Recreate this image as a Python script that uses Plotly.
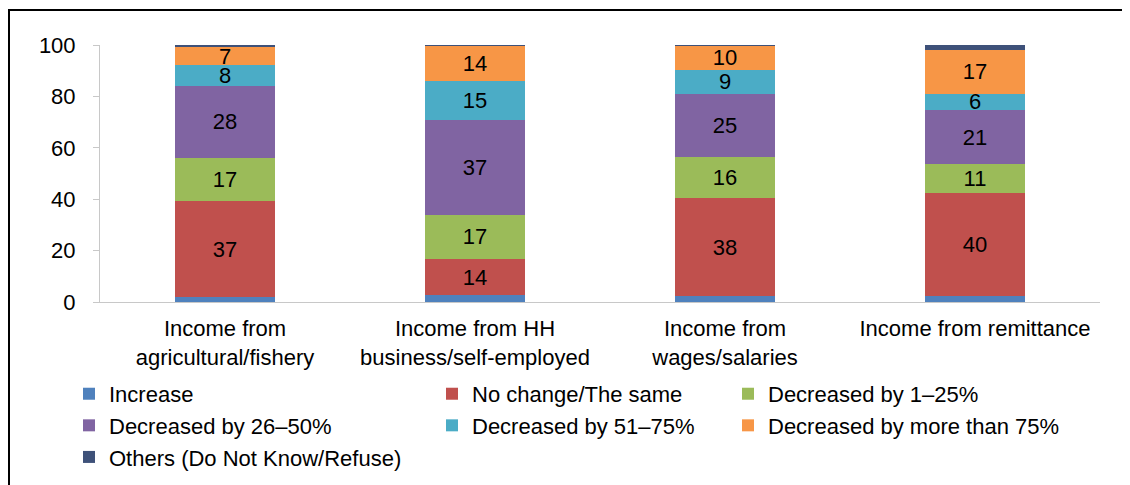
import plotly.graph_objects as go

categories = ["Income from<br>agricultural/fishery", "Income from HH<br>business/self-employed",
              "Income from<br>wages/salaries", "Income from remittance"]
increase = [1.8, 2.6, 2.2, 2.5]
no_change = [37.4, 14.0, 38.2, 40.0]
dec_1_25 = [17.0, 17.4, 16.0, 11.2]
dec_26_50 = [28.0, 37.0, 24.6, 21.0]
dec_51_75 = [8.0, 15.0, 9.3, 6.3]
dec_75 = [7.0, 13.7, 9.6, 17.0]
others = [0.8, 0.3, 0.3, 2.0]

series = [
    ("Increase", increase, "#4F81BD", False, "legend"),
    ("No change/The same", no_change, "#C0504D", True, "legend2"),
    ("Decreased by 1\u201325%", dec_1_25, "#9BBB59", True, "legend3"),
    ("Decreased by 26\u201350%", dec_26_50, "#8064A2", True, "legend"),
    ("Decreased by 51\u201375%", dec_51_75, "#4BACC6", True, "legend2"),
    ("Decreased by more than 75%", dec_75, "#F79646", True, "legend3"),
    ("Others (Do Not Know/Refuse)", others, "#3E5179", False, "legend"),
]

FONT = "Liberation Sans, Arial, sans-serif"
FS = 22

fig = go.Figure()
for name, vals, color, show_text, leg in series:
    fig.add_trace(go.Bar(
        x=categories, y=vals, name=name, marker_color=color,
        marker_line_width=0, width=0.4,
        texttemplate="%{y:.0f}" if show_text else None,
        textposition="inside" if show_text else "none",
        insidetextanchor="middle", textangle=0, constraintext="none",
        textfont=dict(color="black", size=FS, family=FONT),
        legend=leg, legendgroup=name,
    ))

leg_common = dict(orientation="v", xanchor="left", yanchor="top", traceorder="normal",
                  font=dict(size=FS, family=FONT, color="black"), tracegroupgap=2,
                  bgcolor="rgba(0,0,0,0)", itemclick=False)
ly = -0.276
fig.update_layout(
    barmode="stack",
    width=1122, height=500,
    margin=dict(l=92, r=30, t=37, b=206),
    paper_bgcolor="white", plot_bgcolor="white",
    font=dict(family=FONT, size=FS, color="black"),
    legend=dict(x=-0.031, y=ly, **leg_common),
    legend2=dict(x=0.332, y=ly, **leg_common),
    legend3=dict(x=0.628, y=ly, **leg_common),
    xaxis=dict(showline=True, linecolor="#C8C8C8", linewidth=1, ticks="",
               ticklabelstandoff=7, automargin=False,
               tickfont=dict(size=FS, family=FONT, color="black"), showgrid=False),
    yaxis=dict(range=[0, 100], tickvals=[0, 20, 40, 60, 80, 100], showline=True,
               linecolor="#C8C8C8", linewidth=1, ticks="outside", ticklen=6,
               tickcolor="#C8C8C8", showgrid=False, zeroline=False,
               ticklabelstandoff=13, automargin=False,
               tickfont=dict(size=FS, family=FONT, color="black")),
    shapes=[dict(type="rect", xref="paper", yref="paper",
                 x0=-0.091, x1=1.05, y0=-0.8, y1=1.136,
                 line=dict(color="black", width=2), fillcolor="rgba(0,0,0,0)")],
    showlegend=True,
)

fig.write_html("out.html")
